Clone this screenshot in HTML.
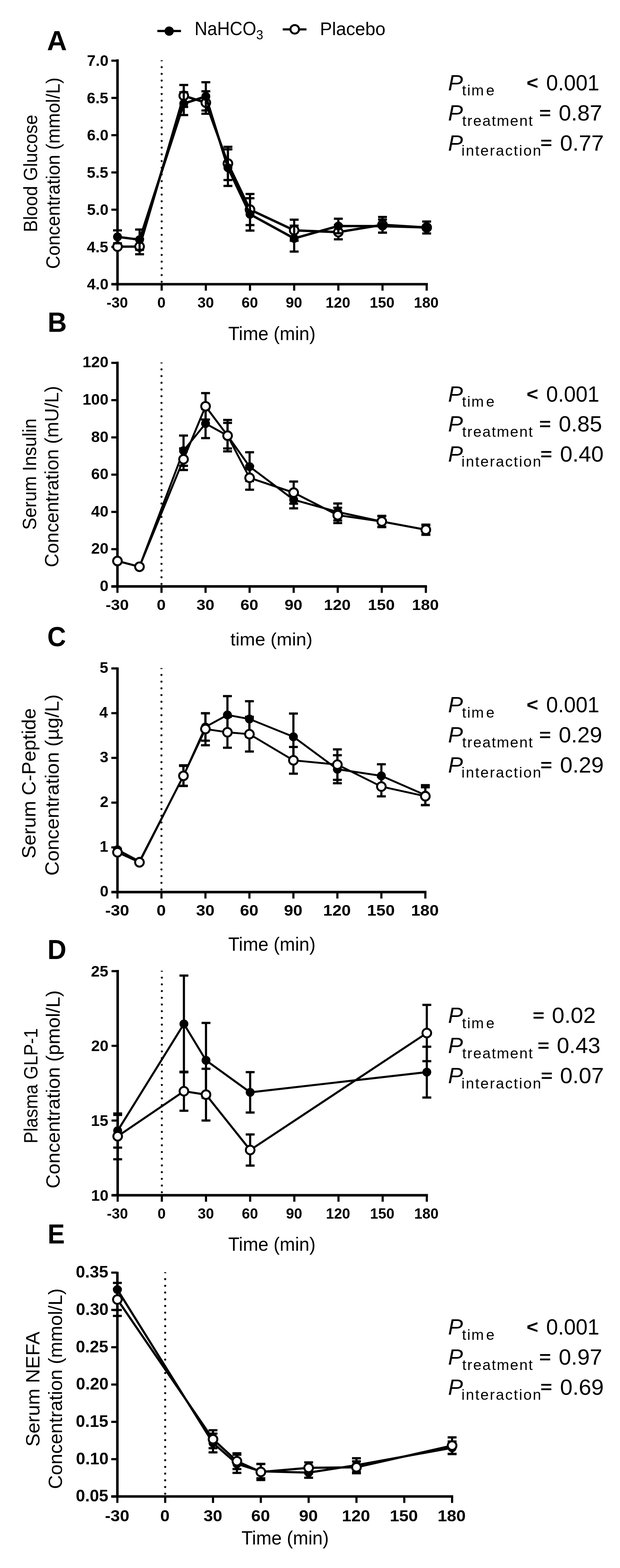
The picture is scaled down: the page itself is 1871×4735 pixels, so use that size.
<!DOCTYPE html>
<html><head><meta charset="utf-8"><title>Figure</title>
<style>
html,body{margin:0;padding:0;background:#fff;}
body{width:1871px;height:4735px;overflow:hidden;}
svg{display:block;}
</style></head>
<body>
<svg width="1871" height="4735" viewBox="0 0 1871 4735" font-family='"Liberation Sans", Arial, Helvetica, sans-serif' fill="#000">
<line x1="474.8" y1="93.7" x2="546.2" y2="93.7" stroke="#000" stroke-width="6.7"/>
<circle cx="510.5" cy="94" r="14"/>
<text transform="translate(591.6,106.3) scale(0.9331,1)" x="-4.67" y="0" font-size="56.98">NaHCO</text>
<text transform="translate(774.8,118.9) scale(0.9532,1)" x="-1.52" y="0" font-size="39.83">3</text>
<line x1="853.2" y1="88.8" x2="924.8" y2="88.8" stroke="#000" stroke-width="6.6"/>
<circle cx="889.4" cy="88.6" r="12.95" fill="#fff" stroke="#000" stroke-width="5.9"/>
<text transform="translate(970,105.6) scale(0.9847,1)" x="-4.55" y="0" font-size="55.52">Placebo</text>
<text x="141.82" y="152.3" font-size="83.43" font-weight="bold">A</text>
<line x1="487.89" y1="202.85" x2="487.89" y2="855.2" stroke="#000" stroke-width="6.2" stroke-linecap="round" stroke-dasharray="0 20.25"/>
<rect x="484.89" y="182" width="6" height="3"/>
<line x1="354.6" y1="179" x2="354.6" y2="862" stroke="#000" stroke-width="7.6"/>
<line x1="336.1" y1="858.2" x2="1291.2" y2="858.2" stroke="#000" stroke-width="7.6"/>
<line x1="336.1" y1="858.2" x2="354.6" y2="858.2" stroke="#000" stroke-width="6.5"/>
<text x="262.62" y="874.24" font-size="46.61" font-weight="bold">4.0</text>
<line x1="336.1" y1="745.7" x2="354.6" y2="745.7" stroke="#000" stroke-width="6.5"/>
<text x="262" y="761.74" font-size="46.61" font-weight="bold">4.5</text>
<line x1="336.1" y1="633.2" x2="354.6" y2="633.2" stroke="#000" stroke-width="6.5"/>
<text x="262.62" y="649.24" font-size="46.61" font-weight="bold">5.0</text>
<line x1="336.1" y1="520.7" x2="354.6" y2="520.7" stroke="#000" stroke-width="6.5"/>
<text x="262" y="536.74" font-size="46.61" font-weight="bold">5.5</text>
<line x1="336.1" y1="408.2" x2="354.6" y2="408.2" stroke="#000" stroke-width="6.5"/>
<text x="262.62" y="424.24" font-size="46.61" font-weight="bold">6.0</text>
<line x1="336.1" y1="295.7" x2="354.6" y2="295.7" stroke="#000" stroke-width="6.5"/>
<text x="262" y="311.74" font-size="46.61" font-weight="bold">6.5</text>
<line x1="336.1" y1="183.2" x2="354.6" y2="183.2" stroke="#000" stroke-width="6.5"/>
<text x="262.62" y="199.24" font-size="46.61" font-weight="bold">7.0</text>
<line x1="354.6" y1="858.2" x2="354.6" y2="877.7" stroke="#000" stroke-width="6.5"/>
<text x="321.59" y="929.06" font-size="44.63" font-weight="bold">-30</text>
<line x1="487.89" y1="858.2" x2="487.89" y2="877.7" stroke="#000" stroke-width="6.5"/>
<text x="474.71" y="929.06" font-size="44.63" font-weight="bold">0</text>
<line x1="621.17" y1="858.2" x2="621.17" y2="877.7" stroke="#000" stroke-width="6.5"/>
<text x="595.95" y="929.06" font-size="44.63" font-weight="bold">30</text>
<line x1="754.46" y1="858.2" x2="754.46" y2="877.7" stroke="#000" stroke-width="6.5"/>
<text x="728.93" y="929.06" font-size="44.63" font-weight="bold">60</text>
<line x1="887.74" y1="858.2" x2="887.74" y2="877.7" stroke="#000" stroke-width="6.5"/>
<text x="862.26" y="929.06" font-size="44.63" font-weight="bold">90</text>
<line x1="1021.03" y1="858.2" x2="1021.03" y2="877.7" stroke="#000" stroke-width="6.5"/>
<text x="982.5" y="929.06" font-size="44.63" font-weight="bold">120</text>
<line x1="1154.31" y1="858.2" x2="1154.31" y2="877.7" stroke="#000" stroke-width="6.5"/>
<text x="1115.79" y="929.06" font-size="44.63" font-weight="bold">150</text>
<line x1="1287.6" y1="858.2" x2="1287.6" y2="877.7" stroke="#000" stroke-width="6.5"/>
<text x="1249.08" y="929.06" font-size="44.63" font-weight="bold">180</text>
<text transform="translate(112.2,696.5) rotate(-90) scale(0.9523,1)" x="-4.7" y="0" font-size="57.27">Blood Glucose</text>
<text transform="translate(180.4,809.2) rotate(-90) scale(0.9662,1)" x="-2.91" y="0" font-size="57.27">Concentration (mmol/L)</text>
<text transform="translate(689.9,1027) scale(0.9733,1)" x="-1.28" y="0" font-size="57.12">Time (min)</text>
<line x1="354.6" y1="740.8" x2="354.6" y2="748.8" stroke="#000" stroke-width="6.5"/>
<rect x="341.2" y="737.45" width="26.8" height="6.7"/>
<rect x="341.2" y="745.45" width="26.8" height="6.7"/>
<line x1="421.24" y1="721.2" x2="421.24" y2="767.8" stroke="#000" stroke-width="6.5"/>
<rect x="407.84" y="717.85" width="26.8" height="6.7"/>
<rect x="407.84" y="764.45" width="26.8" height="6.7"/>
<line x1="554.53" y1="256.6" x2="554.53" y2="322.9" stroke="#000" stroke-width="6.5"/>
<rect x="541.13" y="253.25" width="26.8" height="6.7"/>
<rect x="541.13" y="319.55" width="26.8" height="6.7"/>
<line x1="621.17" y1="275.6" x2="621.17" y2="343.5" stroke="#000" stroke-width="6.5"/>
<rect x="607.77" y="272.25" width="26.8" height="6.7"/>
<rect x="607.77" y="340.15" width="26.8" height="6.7"/>
<line x1="687.81" y1="443.4" x2="687.81" y2="543.7" stroke="#000" stroke-width="6.5"/>
<rect x="674.41" y="440.05" width="26.8" height="6.7"/>
<rect x="674.41" y="540.35" width="26.8" height="6.7"/>
<line x1="754.46" y1="585.8" x2="754.46" y2="679.7" stroke="#000" stroke-width="6.5"/>
<rect x="741.06" y="582.45" width="26.8" height="6.7"/>
<rect x="741.06" y="676.35" width="26.8" height="6.7"/>
<line x1="887.74" y1="663.4" x2="887.74" y2="727.1" stroke="#000" stroke-width="6.5"/>
<rect x="874.34" y="660.05" width="26.8" height="6.7"/>
<rect x="874.34" y="723.75" width="26.8" height="6.7"/>
<line x1="1021.03" y1="679.3" x2="1021.03" y2="722.7" stroke="#000" stroke-width="6.5"/>
<rect x="1007.63" y="675.95" width="26.8" height="6.7"/>
<rect x="1007.63" y="719.35" width="26.8" height="6.7"/>
<line x1="1154.31" y1="655.2" x2="1154.31" y2="702.6" stroke="#000" stroke-width="6.5"/>
<rect x="1140.91" y="651.85" width="26.8" height="6.7"/>
<rect x="1140.91" y="699.25" width="26.8" height="6.7"/>
<line x1="1287.6" y1="684" x2="1287.6" y2="690" stroke="#000" stroke-width="6.5"/>
<rect x="1274.2" y="680.65" width="26.8" height="6.7"/>
<rect x="1274.2" y="686.65" width="26.8" height="6.7"/>
<polyline points="354.6,744.8 421.24,744.5 554.53,289.1 621.17,310 687.81,493.8 754.46,633 887.74,695.6 1021.03,701 1154.31,678.9 1287.6,687" fill="none" stroke="#000" stroke-width="7.2" stroke-linejoin="round"/>
<circle cx="354.6" cy="744.8" r="13.1" fill="#fff" stroke="#000" stroke-width="5.8"/>
<circle cx="421.24" cy="744.5" r="13.1" fill="#fff" stroke="#000" stroke-width="5.8"/>
<circle cx="554.53" cy="289.1" r="13.1" fill="#fff" stroke="#000" stroke-width="5.8"/>
<circle cx="621.17" cy="310" r="13.1" fill="#fff" stroke="#000" stroke-width="5.8"/>
<circle cx="687.81" cy="493.8" r="13.1" fill="#fff" stroke="#000" stroke-width="5.8"/>
<circle cx="754.46" cy="633" r="13.1" fill="#fff" stroke="#000" stroke-width="5.8"/>
<circle cx="887.74" cy="695.6" r="13.1" fill="#fff" stroke="#000" stroke-width="5.8"/>
<circle cx="1021.03" cy="701" r="13.1" fill="#fff" stroke="#000" stroke-width="5.8"/>
<circle cx="1154.31" cy="678.9" r="13.1" fill="#fff" stroke="#000" stroke-width="5.8"/>
<circle cx="1287.6" cy="687" r="13.1" fill="#fff" stroke="#000" stroke-width="5.8"/>
<line x1="354.6" y1="695.7" x2="354.6" y2="734.7" stroke="#000" stroke-width="6.5"/>
<rect x="341.2" y="692.35" width="26.8" height="6.7"/>
<rect x="341.2" y="731.35" width="26.8" height="6.7"/>
<line x1="421.24" y1="693.1" x2="421.24" y2="754.5" stroke="#000" stroke-width="6.5"/>
<rect x="407.84" y="689.75" width="26.8" height="6.7"/>
<rect x="407.84" y="751.15" width="26.8" height="6.7"/>
<line x1="554.53" y1="278.5" x2="554.53" y2="347.5" stroke="#000" stroke-width="6.5"/>
<rect x="541.13" y="275.15" width="26.8" height="6.7"/>
<rect x="541.13" y="344.15" width="26.8" height="6.7"/>
<line x1="621.17" y1="248.3" x2="621.17" y2="333.7" stroke="#000" stroke-width="6.5"/>
<rect x="607.77" y="244.95" width="26.8" height="6.7"/>
<rect x="607.77" y="330.35" width="26.8" height="6.7"/>
<line x1="687.81" y1="451" x2="687.81" y2="561.5" stroke="#000" stroke-width="6.5"/>
<rect x="674.41" y="447.65" width="26.8" height="6.7"/>
<rect x="674.41" y="558.15" width="26.8" height="6.7"/>
<line x1="754.46" y1="598.6" x2="754.46" y2="696.3" stroke="#000" stroke-width="6.5"/>
<rect x="741.06" y="595.25" width="26.8" height="6.7"/>
<rect x="741.06" y="692.95" width="26.8" height="6.7"/>
<line x1="887.74" y1="681.5" x2="887.74" y2="759.7" stroke="#000" stroke-width="6.5"/>
<rect x="874.34" y="678.15" width="26.8" height="6.7"/>
<rect x="874.34" y="756.35" width="26.8" height="6.7"/>
<line x1="1021.03" y1="660.5" x2="1021.03" y2="704.5" stroke="#000" stroke-width="6.5"/>
<rect x="1007.63" y="657.15" width="26.8" height="6.7"/>
<rect x="1007.63" y="701.15" width="26.8" height="6.7"/>
<line x1="1154.31" y1="663" x2="1154.31" y2="702.6" stroke="#000" stroke-width="6.5"/>
<rect x="1140.91" y="659.65" width="26.8" height="6.7"/>
<rect x="1140.91" y="699.25" width="26.8" height="6.7"/>
<line x1="1287.6" y1="669" x2="1287.6" y2="705" stroke="#000" stroke-width="6.5"/>
<rect x="1274.2" y="665.65" width="26.8" height="6.7"/>
<rect x="1274.2" y="701.65" width="26.8" height="6.7"/>
<polyline points="354.6,715.2 421.24,723.8 554.53,313 621.17,291 687.81,506.5 754.46,647.1 887.74,720 1021.03,682.5 1154.31,682.8 1287.6,687" fill="none" stroke="#000" stroke-width="7.2" stroke-linejoin="round"/>
<circle cx="354.6" cy="715.2" r="13.4"/>
<circle cx="421.24" cy="723.8" r="13.4"/>
<circle cx="554.53" cy="313" r="13.4"/>
<circle cx="621.17" cy="291" r="13.4"/>
<circle cx="687.81" cy="506.5" r="13.4"/>
<circle cx="754.46" cy="647.1" r="13.4"/>
<circle cx="887.74" cy="720" r="13.4"/>
<circle cx="1021.03" cy="682.5" r="13.4"/>
<circle cx="1154.31" cy="682.8" r="13.4"/>
<circle cx="1287.6" cy="687" r="13.4"/>
<text x="1351.92" y="272.8" font-size="67.5" font-style="italic">P</text>
<text x="1394.32" y="288.3" font-size="45" letter-spacing="2.83">tim</text>
<text x="1467.09" y="288.3" font-size="45">e</text>
<text transform="translate(1591.6,268.8) scale(1.1022,1)" x="-2.31" y="0" font-size="55" font-weight="bold">&lt;</text>
<text transform="translate(1650.8,272.8) scale(0.9714,1)" x="-2.58" y="0" font-size="66">0.001</text>
<text x="1351.92" y="364.3" font-size="67.5" font-style="italic">P</text>
<text x="1394.72" y="379.8" font-size="45" letter-spacing="2.85">treatment</text>
<text transform="translate(1629.8,359) scale(1.2164,1)" x="-2.08" y="0" font-size="50" font-weight="bold">=</text>
<text transform="translate(1688.7,364.3) scale(1.0224,1)" x="-2.58" y="0" font-size="66">0.87</text>
<text x="1351.92" y="454.7" font-size="67.5" font-style="italic">P</text>
<text x="1392.49" y="470.2" font-size="45" letter-spacing="3.26">interaction</text>
<text transform="translate(1633.2,449.4) scale(1.2164,1)" x="-2.08" y="0" font-size="50" font-weight="bold">=</text>
<text transform="translate(1692.6,454.7) scale(1.0305,1)" x="-2.58" y="0" font-size="66">0.77</text>
<text transform="translate(149.1,1002.3) scale(0.9591,1)" x="-5.58" y="0" font-size="83.43" font-weight="bold">B</text>
<line x1="487.36" y1="1115.43" x2="487.36" y2="1767.9" stroke="#000" stroke-width="6.2" stroke-linecap="round" stroke-dasharray="0 20.25"/>
<rect x="484.36" y="1094.58" width="6" height="3"/>
<line x1="354.4" y1="1092" x2="354.4" y2="1774.7" stroke="#000" stroke-width="7.6"/>
<line x1="335.9" y1="1770.9" x2="1288.5" y2="1770.9" stroke="#000" stroke-width="7.6"/>
<line x1="335.9" y1="1770.9" x2="354.4" y2="1770.9" stroke="#000" stroke-width="6.5"/>
<text x="301.27" y="1784.59" font-size="47.03" font-weight="bold">0</text>
<line x1="335.9" y1="1658.38" x2="354.4" y2="1658.38" stroke="#000" stroke-width="6.5"/>
<text x="275.11" y="1672.07" font-size="47.03" font-weight="bold">20</text>
<line x1="335.9" y1="1545.86" x2="354.4" y2="1545.86" stroke="#000" stroke-width="6.5"/>
<text x="275.11" y="1559.55" font-size="47.03" font-weight="bold">40</text>
<line x1="335.9" y1="1433.34" x2="354.4" y2="1433.34" stroke="#000" stroke-width="6.5"/>
<text x="275.11" y="1447.03" font-size="47.03" font-weight="bold">60</text>
<line x1="335.9" y1="1320.82" x2="354.4" y2="1320.82" stroke="#000" stroke-width="6.5"/>
<text x="275.11" y="1334.51" font-size="47.03" font-weight="bold">80</text>
<line x1="335.9" y1="1208.3" x2="354.4" y2="1208.3" stroke="#000" stroke-width="6.5"/>
<text x="248.96" y="1221.99" font-size="47.03" font-weight="bold">100</text>
<line x1="335.9" y1="1095.78" x2="354.4" y2="1095.78" stroke="#000" stroke-width="6.5"/>
<text x="248.96" y="1109.47" font-size="47.03" font-weight="bold">120</text>
<line x1="354.4" y1="1770.9" x2="354.4" y2="1790.4" stroke="#000" stroke-width="6.5"/>
<text transform="translate(320.51,1841.97) scale(1.1000,1)" x="-1.72" y="0" font-size="44.07" font-weight="bold">-30</text>
<line x1="487.36" y1="1770.9" x2="487.36" y2="1790.4" stroke="#000" stroke-width="6.5"/>
<text transform="translate(475.03,1841.97) scale(1.1000,1)" x="-1.74" y="0" font-size="44.07" font-weight="bold">0</text>
<line x1="620.31" y1="1770.9" x2="620.31" y2="1790.4" stroke="#000" stroke-width="6.5"/>
<text transform="translate(594.11,1841.97) scale(1.1000,1)" x="-1.01" y="0" font-size="44.07" font-weight="bold">30</text>
<line x1="753.27" y1="1770.9" x2="753.27" y2="1790.4" stroke="#000" stroke-width="6.5"/>
<text transform="translate(727.39,1841.97) scale(1.1000,1)" x="-1.61" y="0" font-size="44.07" font-weight="bold">60</text>
<line x1="886.23" y1="1770.9" x2="886.23" y2="1790.4" stroke="#000" stroke-width="6.5"/>
<text transform="translate(860.3,1841.97) scale(1.1000,1)" x="-1.53" y="0" font-size="44.07" font-weight="bold">90</text>
<line x1="1019.19" y1="1770.9" x2="1019.19" y2="1790.4" stroke="#000" stroke-width="6.5"/>
<text transform="translate(980.47,1841.97) scale(1.1000,1)" x="-2.78" y="0" font-size="44.07" font-weight="bold">120</text>
<line x1="1152.14" y1="1770.9" x2="1152.14" y2="1790.4" stroke="#000" stroke-width="6.5"/>
<text transform="translate(1113.42,1841.97) scale(1.1000,1)" x="-2.78" y="0" font-size="44.07" font-weight="bold">150</text>
<line x1="1285.1" y1="1770.9" x2="1285.1" y2="1790.4" stroke="#000" stroke-width="6.5"/>
<text transform="translate(1246.38,1841.97) scale(1.1000,1)" x="-2.78" y="0" font-size="44.07" font-weight="bold">180</text>
<text transform="translate(108.9,1597.5) rotate(-90) scale(0.9610,1)" x="-2.6" y="0" font-size="57.27">Serum Insulin</text>
<text transform="translate(176.4,1710) rotate(-90)" x="-2.91" y="0" font-size="57.27">Concentration (mU/L)</text>
<text transform="translate(696.2,1948.5) scale(1.0330,1)" x="-0.82" y="0" font-size="54">time (min)</text>
<line x1="354.4" y1="1691.1" x2="354.4" y2="1697.1" stroke="#000" stroke-width="6.5"/>
<rect x="341" y="1687.75" width="26.8" height="6.7"/>
<rect x="341" y="1693.75" width="26.8" height="6.7"/>
<line x1="420.88" y1="1708.4" x2="420.88" y2="1714.4" stroke="#000" stroke-width="6.5"/>
<rect x="407.48" y="1705.05" width="26.8" height="6.7"/>
<rect x="407.48" y="1711.05" width="26.8" height="6.7"/>
<line x1="553.84" y1="1315.3" x2="553.84" y2="1406.7" stroke="#000" stroke-width="6.5"/>
<rect x="540.44" y="1311.95" width="26.8" height="6.7"/>
<rect x="540.44" y="1403.35" width="26.8" height="6.7"/>
<line x1="620.31" y1="1235" x2="620.31" y2="1323" stroke="#000" stroke-width="6.5"/>
<rect x="606.91" y="1231.65" width="26.8" height="6.7"/>
<rect x="606.91" y="1319.65" width="26.8" height="6.7"/>
<line x1="686.79" y1="1268.2" x2="686.79" y2="1363" stroke="#000" stroke-width="6.5"/>
<rect x="673.39" y="1264.85" width="26.8" height="6.7"/>
<rect x="673.39" y="1359.65" width="26.8" height="6.7"/>
<line x1="753.27" y1="1365.7" x2="753.27" y2="1452.5" stroke="#000" stroke-width="6.5"/>
<rect x="739.87" y="1362.35" width="26.8" height="6.7"/>
<rect x="739.87" y="1449.15" width="26.8" height="6.7"/>
<line x1="886.23" y1="1483.1" x2="886.23" y2="1535.1" stroke="#000" stroke-width="6.5"/>
<rect x="872.83" y="1479.75" width="26.8" height="6.7"/>
<rect x="872.83" y="1531.75" width="26.8" height="6.7"/>
<line x1="1019.19" y1="1520.4" x2="1019.19" y2="1571.6" stroke="#000" stroke-width="6.5"/>
<rect x="1005.79" y="1517.05" width="26.8" height="6.7"/>
<rect x="1005.79" y="1568.25" width="26.8" height="6.7"/>
<line x1="1152.14" y1="1557.8" x2="1152.14" y2="1591.8" stroke="#000" stroke-width="6.5"/>
<rect x="1138.74" y="1554.45" width="26.8" height="6.7"/>
<rect x="1138.74" y="1588.45" width="26.8" height="6.7"/>
<line x1="1285.1" y1="1584.3" x2="1285.1" y2="1615.1" stroke="#000" stroke-width="6.5"/>
<rect x="1271.7" y="1580.95" width="26.8" height="6.7"/>
<rect x="1271.7" y="1611.75" width="26.8" height="6.7"/>
<polyline points="354.4,1694.1 420.88,1711.4 553.84,1361 620.31,1279 686.79,1315.6 753.27,1409.1 886.23,1509.1 1019.19,1546 1152.14,1574.8 1285.1,1599.7" fill="none" stroke="#000" stroke-width="5.9" stroke-linejoin="round"/>
<circle cx="354.4" cy="1694.1" r="13.4"/>
<circle cx="420.88" cy="1711.4" r="13.4"/>
<circle cx="553.84" cy="1361" r="13.4"/>
<circle cx="620.31" cy="1279" r="13.4"/>
<circle cx="686.79" cy="1315.6" r="13.4"/>
<circle cx="753.27" cy="1409.1" r="13.4"/>
<circle cx="886.23" cy="1509.1" r="13.4"/>
<circle cx="1019.19" cy="1546" r="13.4"/>
<circle cx="1152.14" cy="1574.8" r="13.4"/>
<circle cx="1285.1" cy="1599.7" r="13.4"/>
<line x1="354.4" y1="1691.1" x2="354.4" y2="1697.1" stroke="#000" stroke-width="6.5"/>
<rect x="341" y="1687.75" width="26.8" height="6.7"/>
<rect x="341" y="1693.75" width="26.8" height="6.7"/>
<line x1="420.88" y1="1708.4" x2="420.88" y2="1714.4" stroke="#000" stroke-width="6.5"/>
<rect x="407.48" y="1705.05" width="26.8" height="6.7"/>
<rect x="407.48" y="1711.05" width="26.8" height="6.7"/>
<line x1="553.84" y1="1354" x2="553.84" y2="1419.3" stroke="#000" stroke-width="6.5"/>
<rect x="540.44" y="1350.65" width="26.8" height="6.7"/>
<rect x="540.44" y="1415.95" width="26.8" height="6.7"/>
<line x1="620.31" y1="1187.1" x2="620.31" y2="1266.9" stroke="#000" stroke-width="6.5"/>
<rect x="606.91" y="1183.75" width="26.8" height="6.7"/>
<rect x="606.91" y="1263.55" width="26.8" height="6.7"/>
<line x1="686.79" y1="1277" x2="686.79" y2="1354.2" stroke="#000" stroke-width="6.5"/>
<rect x="673.39" y="1273.65" width="26.8" height="6.7"/>
<rect x="673.39" y="1350.85" width="26.8" height="6.7"/>
<line x1="753.27" y1="1407.2" x2="753.27" y2="1478.8" stroke="#000" stroke-width="6.5"/>
<rect x="739.87" y="1403.85" width="26.8" height="6.7"/>
<rect x="739.87" y="1475.45" width="26.8" height="6.7"/>
<line x1="886.23" y1="1454.2" x2="886.23" y2="1521" stroke="#000" stroke-width="6.5"/>
<rect x="872.83" y="1450.85" width="26.8" height="6.7"/>
<rect x="872.83" y="1517.65" width="26.8" height="6.7"/>
<line x1="1019.19" y1="1533.3" x2="1019.19" y2="1579.5" stroke="#000" stroke-width="6.5"/>
<rect x="1005.79" y="1529.95" width="26.8" height="6.7"/>
<rect x="1005.79" y="1576.15" width="26.8" height="6.7"/>
<line x1="1152.14" y1="1558.8" x2="1152.14" y2="1590.8" stroke="#000" stroke-width="6.5"/>
<rect x="1138.74" y="1555.45" width="26.8" height="6.7"/>
<rect x="1138.74" y="1587.45" width="26.8" height="6.7"/>
<line x1="1285.1" y1="1585.7" x2="1285.1" y2="1613.7" stroke="#000" stroke-width="6.5"/>
<rect x="1271.7" y="1582.35" width="26.8" height="6.7"/>
<rect x="1271.7" y="1610.35" width="26.8" height="6.7"/>
<polyline points="354.4,1694.1 420.88,1711.4 553.84,1387 620.31,1226.9 686.79,1315.6 753.27,1443 886.23,1487.6 1019.19,1555.7 1152.14,1574.8 1285.1,1599.7" fill="none" stroke="#000" stroke-width="5.9" stroke-linejoin="round"/>
<circle cx="354.4" cy="1694.1" r="13.1" fill="#fff" stroke="#000" stroke-width="5.8"/>
<circle cx="420.88" cy="1711.4" r="13.1" fill="#fff" stroke="#000" stroke-width="5.8"/>
<circle cx="553.84" cy="1387" r="13.1" fill="#fff" stroke="#000" stroke-width="5.8"/>
<circle cx="620.31" cy="1226.9" r="13.1" fill="#fff" stroke="#000" stroke-width="5.8"/>
<circle cx="686.79" cy="1315.6" r="13.1" fill="#fff" stroke="#000" stroke-width="5.8"/>
<circle cx="753.27" cy="1443" r="13.1" fill="#fff" stroke="#000" stroke-width="5.8"/>
<circle cx="886.23" cy="1487.6" r="13.1" fill="#fff" stroke="#000" stroke-width="5.8"/>
<circle cx="1019.19" cy="1555.7" r="13.1" fill="#fff" stroke="#000" stroke-width="5.8"/>
<circle cx="1152.14" cy="1574.8" r="13.1" fill="#fff" stroke="#000" stroke-width="5.8"/>
<circle cx="1285.1" cy="1599.7" r="13.1" fill="#fff" stroke="#000" stroke-width="5.8"/>
<text x="1351.92" y="1212.5" font-size="67.5" font-style="italic">P</text>
<text x="1394.32" y="1228" font-size="45" letter-spacing="2.83">tim</text>
<text x="1467.09" y="1228" font-size="45">e</text>
<text transform="translate(1591.6,1208.5) scale(1.1022,1)" x="-2.31" y="0" font-size="55" font-weight="bold">&lt;</text>
<text transform="translate(1650.8,1212.5) scale(0.9714,1)" x="-2.58" y="0" font-size="66">0.001</text>
<text x="1351.92" y="1303.4" font-size="67.5" font-style="italic">P</text>
<text x="1394.72" y="1318.9" font-size="45" letter-spacing="2.85">treatment</text>
<text transform="translate(1629.8,1298.1) scale(1.2164,1)" x="-2.08" y="0" font-size="50" font-weight="bold">=</text>
<text transform="translate(1688.7,1303.4) scale(1.0178,1)" x="-2.58" y="0" font-size="66">0.85</text>
<text x="1351.92" y="1393.8" font-size="67.5" font-style="italic">P</text>
<text x="1392.49" y="1409.3" font-size="45" letter-spacing="3.26">interaction</text>
<text transform="translate(1633.2,1388.5) scale(1.2164,1)" x="-2.08" y="0" font-size="50" font-weight="bold">=</text>
<text transform="translate(1692.6,1393.8) scale(1.0243,1)" x="-2.58" y="0" font-size="66">0.40</text>
<text transform="translate(145.9,1951.4) scale(0.9335,1)" x="-3.43" y="0" font-size="83.72" font-weight="bold">C</text>
<line x1="487.23" y1="2038.15" x2="487.23" y2="2690.9" stroke="#000" stroke-width="6.2" stroke-linecap="round" stroke-dasharray="0 20.25"/>
<rect x="484.23" y="2017.3" width="6" height="3"/>
<line x1="354.5" y1="2015.5" x2="354.5" y2="2697.7" stroke="#000" stroke-width="7.6"/>
<line x1="336" y1="2693.9" x2="1287" y2="2693.9" stroke="#000" stroke-width="7.6"/>
<line x1="336" y1="2693.9" x2="354.5" y2="2693.9" stroke="#000" stroke-width="6.5"/>
<text x="301.49" y="2706.94" font-size="46.61" font-weight="bold">0</text>
<line x1="336" y1="2558.82" x2="354.5" y2="2558.82" stroke="#000" stroke-width="6.5"/>
<text x="300.87" y="2571.86" font-size="46.61" font-weight="bold">1</text>
<line x1="336" y1="2423.74" x2="354.5" y2="2423.74" stroke="#000" stroke-width="6.5"/>
<text x="301.44" y="2436.78" font-size="46.61" font-weight="bold">2</text>
<line x1="336" y1="2288.66" x2="354.5" y2="2288.66" stroke="#000" stroke-width="6.5"/>
<text x="301.26" y="2301.7" font-size="46.61" font-weight="bold">3</text>
<line x1="336" y1="2153.58" x2="354.5" y2="2153.58" stroke="#000" stroke-width="6.5"/>
<text x="299.83" y="2166.62" font-size="46.61" font-weight="bold">4</text>
<line x1="336" y1="2018.5" x2="354.5" y2="2018.5" stroke="#000" stroke-width="6.5"/>
<text x="300.87" y="2031.54" font-size="46.61" font-weight="bold">5</text>
<line x1="354.5" y1="2693.9" x2="354.5" y2="2713.4" stroke="#000" stroke-width="6.5"/>
<text transform="translate(319.55,2764.55) scale(1.1000,1)" x="-1.78" y="0" font-size="45.48" font-weight="bold">-30</text>
<line x1="487.23" y1="2693.9" x2="487.23" y2="2713.4" stroke="#000" stroke-width="6.5"/>
<text transform="translate(474.53,2764.55) scale(1.1000,1)" x="-1.8" y="0" font-size="45.48" font-weight="bold">0</text>
<line x1="619.96" y1="2693.9" x2="619.96" y2="2713.4" stroke="#000" stroke-width="6.5"/>
<text transform="translate(592.93,2764.55) scale(1.1000,1)" x="-1.04" y="0" font-size="45.48" font-weight="bold">30</text>
<line x1="752.69" y1="2693.9" x2="752.69" y2="2713.4" stroke="#000" stroke-width="6.5"/>
<text transform="translate(726,2764.55) scale(1.1000,1)" x="-1.67" y="0" font-size="45.48" font-weight="bold">60</text>
<line x1="885.41" y1="2693.9" x2="885.41" y2="2713.4" stroke="#000" stroke-width="6.5"/>
<text transform="translate(858.68,2764.55) scale(1.1000,1)" x="-1.58" y="0" font-size="45.48" font-weight="bold">90</text>
<line x1="1018.14" y1="2693.9" x2="1018.14" y2="2713.4" stroke="#000" stroke-width="6.5"/>
<text transform="translate(978.21,2764.55) scale(1.1000,1)" x="-2.86" y="0" font-size="45.48" font-weight="bold">120</text>
<line x1="1150.87" y1="2693.9" x2="1150.87" y2="2713.4" stroke="#000" stroke-width="6.5"/>
<text transform="translate(1110.94,2764.55) scale(1.1000,1)" x="-2.86" y="0" font-size="45.48" font-weight="bold">150</text>
<line x1="1283.6" y1="2693.9" x2="1283.6" y2="2713.4" stroke="#000" stroke-width="6.5"/>
<text transform="translate(1243.67,2764.55) scale(1.1000,1)" x="-2.86" y="0" font-size="45.48" font-weight="bold">180</text>
<text transform="translate(107.1,2589.7) rotate(-90) scale(1.0330,1)" x="-2.6" y="0" font-size="57.27">Serum C-Peptide</text>
<text transform="translate(177.2,2641.3) rotate(-90) scale(1.0465,1)" x="-2.91" y="0" font-size="57.27">Concentration (µg/L)</text>
<text transform="translate(689.9,2870.8) scale(0.9733,1)" x="-1.28" y="0" font-size="57.12">Time (min)</text>
<line x1="354.5" y1="2563" x2="354.5" y2="2569" stroke="#000" stroke-width="6.5"/>
<rect x="341.1" y="2559.65" width="26.8" height="6.7"/>
<rect x="341.1" y="2565.65" width="26.8" height="6.7"/>
<line x1="420.86" y1="2598" x2="420.86" y2="2604" stroke="#000" stroke-width="6.5"/>
<rect x="407.46" y="2594.65" width="26.8" height="6.7"/>
<rect x="407.46" y="2600.65" width="26.8" height="6.7"/>
<line x1="553.59" y1="2312.9" x2="553.59" y2="2372.9" stroke="#000" stroke-width="6.5"/>
<rect x="540.19" y="2309.55" width="26.8" height="6.7"/>
<rect x="540.19" y="2369.55" width="26.8" height="6.7"/>
<line x1="619.96" y1="2153.9" x2="619.96" y2="2236.7" stroke="#000" stroke-width="6.5"/>
<rect x="606.56" y="2150.55" width="26.8" height="6.7"/>
<rect x="606.56" y="2233.35" width="26.8" height="6.7"/>
<line x1="686.32" y1="2102.1" x2="686.32" y2="2215.9" stroke="#000" stroke-width="6.5"/>
<rect x="672.92" y="2098.75" width="26.8" height="6.7"/>
<rect x="672.92" y="2212.55" width="26.8" height="6.7"/>
<line x1="752.69" y1="2117.5" x2="752.69" y2="2224.9" stroke="#000" stroke-width="6.5"/>
<rect x="739.29" y="2114.15" width="26.8" height="6.7"/>
<rect x="739.29" y="2221.55" width="26.8" height="6.7"/>
<line x1="885.41" y1="2154.8" x2="885.41" y2="2295" stroke="#000" stroke-width="6.5"/>
<rect x="872.01" y="2151.45" width="26.8" height="6.7"/>
<rect x="872.01" y="2291.65" width="26.8" height="6.7"/>
<line x1="1018.14" y1="2280.6" x2="1018.14" y2="2365.2" stroke="#000" stroke-width="6.5"/>
<rect x="1004.74" y="2277.25" width="26.8" height="6.7"/>
<rect x="1004.74" y="2361.85" width="26.8" height="6.7"/>
<line x1="1150.87" y1="2307.9" x2="1150.87" y2="2377.9" stroke="#000" stroke-width="6.5"/>
<rect x="1137.47" y="2304.55" width="26.8" height="6.7"/>
<rect x="1137.47" y="2374.55" width="26.8" height="6.7"/>
<line x1="1283.6" y1="2371" x2="1283.6" y2="2431" stroke="#000" stroke-width="6.5"/>
<rect x="1270.2" y="2367.65" width="26.8" height="6.7"/>
<rect x="1270.2" y="2427.65" width="26.8" height="6.7"/>
<polyline points="354.5,2566 420.86,2601 553.59,2342.9 619.96,2195.3 686.32,2159 752.69,2171.2 885.41,2224.9 1018.14,2322.9 1150.87,2342.9 1283.6,2401" fill="none" stroke="#000" stroke-width="5.7" stroke-linejoin="round"/>
<circle cx="354.5" cy="2566" r="13.4"/>
<circle cx="420.86" cy="2601" r="13.4"/>
<circle cx="553.59" cy="2342.9" r="13.4"/>
<circle cx="619.96" cy="2195.3" r="13.4"/>
<circle cx="686.32" cy="2159" r="13.4"/>
<circle cx="752.69" cy="2171.2" r="13.4"/>
<circle cx="885.41" cy="2224.9" r="13.4"/>
<circle cx="1018.14" cy="2322.9" r="13.4"/>
<circle cx="1150.87" cy="2342.9" r="13.4"/>
<circle cx="1283.6" cy="2401" r="13.4"/>
<line x1="354.5" y1="2570.7" x2="354.5" y2="2576.7" stroke="#000" stroke-width="6.5"/>
<rect x="341.1" y="2567.35" width="26.8" height="6.7"/>
<rect x="341.1" y="2573.35" width="26.8" height="6.7"/>
<line x1="420.86" y1="2601" x2="420.86" y2="2607" stroke="#000" stroke-width="6.5"/>
<rect x="407.46" y="2597.65" width="26.8" height="6.7"/>
<rect x="407.46" y="2603.65" width="26.8" height="6.7"/>
<line x1="553.59" y1="2311" x2="553.59" y2="2373.5" stroke="#000" stroke-width="6.5"/>
<rect x="540.19" y="2307.65" width="26.8" height="6.7"/>
<rect x="540.19" y="2370.15" width="26.8" height="6.7"/>
<line x1="619.96" y1="2153.9" x2="619.96" y2="2250.5" stroke="#000" stroke-width="6.5"/>
<rect x="606.56" y="2150.55" width="26.8" height="6.7"/>
<rect x="606.56" y="2247.15" width="26.8" height="6.7"/>
<line x1="686.32" y1="2164.6" x2="686.32" y2="2258" stroke="#000" stroke-width="6.5"/>
<rect x="672.92" y="2161.25" width="26.8" height="6.7"/>
<rect x="672.92" y="2254.65" width="26.8" height="6.7"/>
<line x1="752.69" y1="2164.6" x2="752.69" y2="2269.4" stroke="#000" stroke-width="6.5"/>
<rect x="739.29" y="2161.25" width="26.8" height="6.7"/>
<rect x="739.29" y="2266.05" width="26.8" height="6.7"/>
<line x1="885.41" y1="2255.7" x2="885.41" y2="2336.3" stroke="#000" stroke-width="6.5"/>
<rect x="872.01" y="2252.35" width="26.8" height="6.7"/>
<rect x="872.01" y="2332.95" width="26.8" height="6.7"/>
<line x1="1018.14" y1="2263" x2="1018.14" y2="2355" stroke="#000" stroke-width="6.5"/>
<rect x="1004.74" y="2259.65" width="26.8" height="6.7"/>
<rect x="1004.74" y="2351.65" width="26.8" height="6.7"/>
<line x1="1150.87" y1="2345.8" x2="1150.87" y2="2404.8" stroke="#000" stroke-width="6.5"/>
<rect x="1137.47" y="2342.45" width="26.8" height="6.7"/>
<rect x="1137.47" y="2401.45" width="26.8" height="6.7"/>
<line x1="1283.6" y1="2377.4" x2="1283.6" y2="2431.4" stroke="#000" stroke-width="6.5"/>
<rect x="1270.2" y="2374.05" width="26.8" height="6.7"/>
<rect x="1270.2" y="2428.05" width="26.8" height="6.7"/>
<polyline points="354.5,2573.7 420.86,2604 553.59,2342.9 619.96,2201.5 686.32,2211.3 752.69,2217 885.41,2296 1018.14,2309 1150.87,2375.3 1283.6,2404.4" fill="none" stroke="#000" stroke-width="5.7" stroke-linejoin="round"/>
<circle cx="354.5" cy="2573.7" r="13.1" fill="#fff" stroke="#000" stroke-width="5.8"/>
<circle cx="420.86" cy="2604" r="13.1" fill="#fff" stroke="#000" stroke-width="5.8"/>
<circle cx="553.59" cy="2342.9" r="13.1" fill="#fff" stroke="#000" stroke-width="5.8"/>
<circle cx="619.96" cy="2201.5" r="13.1" fill="#fff" stroke="#000" stroke-width="5.8"/>
<circle cx="686.32" cy="2211.3" r="13.1" fill="#fff" stroke="#000" stroke-width="5.8"/>
<circle cx="752.69" cy="2217" r="13.1" fill="#fff" stroke="#000" stroke-width="5.8"/>
<circle cx="885.41" cy="2296" r="13.1" fill="#fff" stroke="#000" stroke-width="5.8"/>
<circle cx="1018.14" cy="2309" r="13.1" fill="#fff" stroke="#000" stroke-width="5.8"/>
<circle cx="1150.87" cy="2375.3" r="13.1" fill="#fff" stroke="#000" stroke-width="5.8"/>
<circle cx="1283.6" cy="2404.4" r="13.1" fill="#fff" stroke="#000" stroke-width="5.8"/>
<text x="1351.92" y="2151" font-size="67.5" font-style="italic">P</text>
<text x="1394.32" y="2166.5" font-size="45" letter-spacing="2.83">tim</text>
<text x="1467.09" y="2166.5" font-size="45">e</text>
<text transform="translate(1591.6,2147) scale(1.1022,1)" x="-2.31" y="0" font-size="55" font-weight="bold">&lt;</text>
<text transform="translate(1650.8,2151) scale(0.9714,1)" x="-2.58" y="0" font-size="66">0.001</text>
<text x="1351.92" y="2241.9" font-size="67.5" font-style="italic">P</text>
<text x="1394.72" y="2257.4" font-size="45" letter-spacing="2.85">treatment</text>
<text transform="translate(1629.8,2236.6) scale(1.2164,1)" x="-2.08" y="0" font-size="50" font-weight="bold">=</text>
<text transform="translate(1688.7,2241.9) scale(1.0208,1)" x="-2.58" y="0" font-size="66">0.29</text>
<text x="1351.92" y="2332.8" font-size="67.5" font-style="italic">P</text>
<text x="1392.49" y="2348.3" font-size="45" letter-spacing="3.26">interaction</text>
<text transform="translate(1633.2,2327.5) scale(1.2164,1)" x="-2.08" y="0" font-size="50" font-weight="bold">=</text>
<text transform="translate(1692.6,2332.8) scale(1.0289,1)" x="-2.58" y="0" font-size="66">0.29</text>
<text transform="translate(148.6,2896.2) scale(0.9476,1)" x="-5.57" y="0" font-size="83.28" font-weight="bold">D</text>
<line x1="488.37" y1="2952.25" x2="488.37" y2="3606.4" stroke="#000" stroke-width="6.2" stroke-linecap="round" stroke-dasharray="0 20.25"/>
<rect x="485.37" y="2931.4" width="6" height="3"/>
<line x1="355.1" y1="2929" x2="355.1" y2="3613.2" stroke="#000" stroke-width="7.6"/>
<line x1="336.6" y1="3609.4" x2="1291.4" y2="3609.4" stroke="#000" stroke-width="7.6"/>
<line x1="336.6" y1="3609.4" x2="355.1" y2="3609.4" stroke="#000" stroke-width="6.5"/>
<text x="275.11" y="3625.59" font-size="47.03" font-weight="bold">10</text>
<line x1="336.6" y1="3383.8" x2="355.1" y2="3383.8" stroke="#000" stroke-width="6.5"/>
<text x="274.49" y="3399.99" font-size="47.03" font-weight="bold">15</text>
<line x1="336.6" y1="3158.2" x2="355.1" y2="3158.2" stroke="#000" stroke-width="6.5"/>
<text x="275.11" y="3174.39" font-size="47.03" font-weight="bold">20</text>
<line x1="336.6" y1="2932.6" x2="355.1" y2="2932.6" stroke="#000" stroke-width="6.5"/>
<text x="274.49" y="2948.79" font-size="47.03" font-weight="bold">25</text>
<line x1="355.1" y1="3609.4" x2="355.1" y2="3628.9" stroke="#000" stroke-width="6.5"/>
<text x="322.6" y="3679.57" font-size="43.93" font-weight="bold">-30</text>
<line x1="488.37" y1="3609.4" x2="488.37" y2="3628.9" stroke="#000" stroke-width="6.5"/>
<text x="475.39" y="3679.57" font-size="43.93" font-weight="bold">0</text>
<line x1="621.64" y1="3609.4" x2="621.64" y2="3628.9" stroke="#000" stroke-width="6.5"/>
<text x="596.81" y="3679.57" font-size="43.93" font-weight="bold">30</text>
<line x1="754.91" y1="3609.4" x2="754.91" y2="3628.9" stroke="#000" stroke-width="6.5"/>
<text x="729.78" y="3679.57" font-size="43.93" font-weight="bold">60</text>
<line x1="888.19" y1="3609.4" x2="888.19" y2="3628.9" stroke="#000" stroke-width="6.5"/>
<text x="863.1" y="3679.57" font-size="43.93" font-weight="bold">90</text>
<line x1="1021.46" y1="3609.4" x2="1021.46" y2="3628.9" stroke="#000" stroke-width="6.5"/>
<text x="983.53" y="3679.57" font-size="43.93" font-weight="bold">120</text>
<line x1="1154.73" y1="3609.4" x2="1154.73" y2="3628.9" stroke="#000" stroke-width="6.5"/>
<text x="1116.8" y="3679.57" font-size="43.93" font-weight="bold">150</text>
<line x1="1288" y1="3609.4" x2="1288" y2="3628.9" stroke="#000" stroke-width="6.5"/>
<text x="1250.07" y="3679.57" font-size="43.93" font-weight="bold">180</text>
<text transform="translate(113,3448.5) rotate(-90) scale(0.9345,1)" x="-4.7" y="0" font-size="57.27">Plasma GLP-1</text>
<text transform="translate(180.4,3585.8) rotate(-90) scale(1.0276,1)" x="-2.91" y="0" font-size="57.27">Concentration (pmol/L)</text>
<text transform="translate(689.9,3776.5) scale(0.9733,1)" x="-1.28" y="0" font-size="57.12">Time (min)</text>
<line x1="355.1" y1="3362.5" x2="355.1" y2="3465.5" stroke="#000" stroke-width="6.5"/>
<rect x="341.7" y="3359.15" width="26.8" height="6.7"/>
<rect x="341.7" y="3462.15" width="26.8" height="6.7"/>
<line x1="555.01" y1="2946" x2="555.01" y2="3238" stroke="#000" stroke-width="6.5"/>
<rect x="541.61" y="2942.65" width="26.8" height="6.7"/>
<rect x="541.61" y="3234.65" width="26.8" height="6.7"/>
<line x1="621.64" y1="3089" x2="621.64" y2="3315" stroke="#000" stroke-width="6.5"/>
<rect x="608.24" y="3085.65" width="26.8" height="6.7"/>
<rect x="608.24" y="3311.65" width="26.8" height="6.7"/>
<line x1="754.91" y1="3237.6" x2="754.91" y2="3359.6" stroke="#000" stroke-width="6.5"/>
<rect x="741.51" y="3234.25" width="26.8" height="6.7"/>
<rect x="741.51" y="3356.25" width="26.8" height="6.7"/>
<line x1="1288" y1="3160.9" x2="1288" y2="3314.3" stroke="#000" stroke-width="6.5"/>
<rect x="1274.6" y="3157.55" width="26.8" height="6.7"/>
<rect x="1274.6" y="3310.95" width="26.8" height="6.7"/>
<polyline points="355.1,3414.5 555.01,3092 621.64,3202 754.91,3298.6 1288,3237.6" fill="none" stroke="#000" stroke-width="6.2" stroke-linejoin="round"/>
<circle cx="355.1" cy="3414.5" r="13.4"/>
<circle cx="555.01" cy="3092" r="13.4"/>
<circle cx="621.64" cy="3202" r="13.4"/>
<circle cx="754.91" cy="3298.6" r="13.4"/>
<circle cx="1288" cy="3237.6" r="13.4"/>
<line x1="355.1" y1="3366.8" x2="355.1" y2="3500.7" stroke="#000" stroke-width="6.5"/>
<rect x="341.7" y="3363.45" width="26.8" height="6.7"/>
<rect x="341.7" y="3497.35" width="26.8" height="6.7"/>
<line x1="555.01" y1="3236.4" x2="555.01" y2="3354.2" stroke="#000" stroke-width="6.5"/>
<rect x="541.61" y="3233.05" width="26.8" height="6.7"/>
<rect x="541.61" y="3350.85" width="26.8" height="6.7"/>
<line x1="621.64" y1="3227.5" x2="621.64" y2="3383.7" stroke="#000" stroke-width="6.5"/>
<rect x="608.24" y="3224.15" width="26.8" height="6.7"/>
<rect x="608.24" y="3380.35" width="26.8" height="6.7"/>
<line x1="754.91" y1="3425.8" x2="754.91" y2="3519.8" stroke="#000" stroke-width="6.5"/>
<rect x="741.51" y="3422.45" width="26.8" height="6.7"/>
<rect x="741.51" y="3516.45" width="26.8" height="6.7"/>
<line x1="1288" y1="3034.5" x2="1288" y2="3204.5" stroke="#000" stroke-width="6.5"/>
<rect x="1274.6" y="3031.15" width="26.8" height="6.7"/>
<rect x="1274.6" y="3201.15" width="26.8" height="6.7"/>
<polyline points="355.1,3431.2 555.01,3295.3 621.64,3305.6 754.91,3472.8 1288,3119.5" fill="none" stroke="#000" stroke-width="6.2" stroke-linejoin="round"/>
<circle cx="355.1" cy="3431.2" r="13.1" fill="#fff" stroke="#000" stroke-width="5.8"/>
<circle cx="555.01" cy="3295.3" r="13.1" fill="#fff" stroke="#000" stroke-width="5.8"/>
<circle cx="621.64" cy="3305.6" r="13.1" fill="#fff" stroke="#000" stroke-width="5.8"/>
<circle cx="754.91" cy="3472.8" r="13.1" fill="#fff" stroke="#000" stroke-width="5.8"/>
<circle cx="1288" cy="3119.5" r="13.1" fill="#fff" stroke="#000" stroke-width="5.8"/>
<text x="1351.92" y="3089" font-size="67.5" font-style="italic">P</text>
<text x="1394.32" y="3104.5" font-size="45" letter-spacing="2.83">tim</text>
<text x="1467.09" y="3104.5" font-size="45">e</text>
<text transform="translate(1610.1,3083.7) scale(1.2164,1)" x="-2.08" y="0" font-size="50" font-weight="bold">=</text>
<text transform="translate(1668.1,3089) scale(1.0297,1)" x="-2.58" y="0" font-size="66">0.02</text>
<text x="1351.92" y="3180.4" font-size="67.5" font-style="italic">P</text>
<text x="1394.72" y="3195.9" font-size="45" letter-spacing="2.85">treatment</text>
<text transform="translate(1624.9,3175.1) scale(1.2164,1)" x="-2.08" y="0" font-size="50" font-weight="bold">=</text>
<text transform="translate(1682.8,3180.4) scale(1.0262,1)" x="-2.58" y="0" font-size="66">0.43</text>
<text x="1351.92" y="3271.3" font-size="67.5" font-style="italic">P</text>
<text x="1392.49" y="3286.8" font-size="45" letter-spacing="3.26">interaction</text>
<text transform="translate(1634.7,3266) scale(1.2164,1)" x="-2.08" y="0" font-size="50" font-weight="bold">=</text>
<text transform="translate(1692.6,3271.3) scale(1.0305,1)" x="-2.58" y="0" font-size="66">0.07</text>
<text transform="translate(148.8,3755.1) scale(0.9342,1)" x="-5.55" y="0" font-size="82.99" font-weight="bold">E</text>
<line x1="498.5" y1="3862.66" x2="498.5" y2="4516" stroke="#000" stroke-width="6.2" stroke-linecap="round" stroke-dasharray="0 20.25"/>
<rect x="495.5" y="3841.81" width="6" height="3"/>
<line x1="354.2" y1="3840.5" x2="354.2" y2="4522.8" stroke="#000" stroke-width="7.6"/>
<line x1="335.7" y1="4519" x2="1367.6" y2="4519" stroke="#000" stroke-width="7.6"/>
<line x1="335.7" y1="4519" x2="354.2" y2="4519" stroke="#000" stroke-width="6.5"/>
<text transform="translate(230.65,4534.37) scale(1.0300,1)" x="-1.94" y="0" font-size="49.01" font-weight="bold">0.05</text>
<line x1="335.7" y1="4406.34" x2="354.2" y2="4406.34" stroke="#000" stroke-width="6.5"/>
<text transform="translate(231.32,4421.7) scale(1.0300,1)" x="-1.94" y="0" font-size="49.01" font-weight="bold">0.10</text>
<line x1="335.7" y1="4293.67" x2="354.2" y2="4293.67" stroke="#000" stroke-width="6.5"/>
<text transform="translate(230.65,4309.04) scale(1.0300,1)" x="-1.94" y="0" font-size="49.01" font-weight="bold">0.15</text>
<line x1="335.7" y1="4181.01" x2="354.2" y2="4181.01" stroke="#000" stroke-width="6.5"/>
<text transform="translate(231.32,4196.37) scale(1.0300,1)" x="-1.94" y="0" font-size="49.01" font-weight="bold">0.20</text>
<line x1="335.7" y1="4068.34" x2="354.2" y2="4068.34" stroke="#000" stroke-width="6.5"/>
<text transform="translate(230.65,4083.71) scale(1.0300,1)" x="-1.94" y="0" font-size="49.01" font-weight="bold">0.25</text>
<line x1="335.7" y1="3955.68" x2="354.2" y2="3955.68" stroke="#000" stroke-width="6.5"/>
<text transform="translate(231.32,3971.04) scale(1.0300,1)" x="-1.94" y="0" font-size="49.01" font-weight="bold">0.30</text>
<line x1="335.7" y1="3843.01" x2="354.2" y2="3843.01" stroke="#000" stroke-width="6.5"/>
<text transform="translate(230.65,3858.38) scale(1.0300,1)" x="-1.94" y="0" font-size="49.01" font-weight="bold">0.35</text>
<line x1="354.2" y1="4519" x2="354.2" y2="4538.5" stroke="#000" stroke-width="6.5"/>
<text transform="translate(318.63,4593.53) scale(1.0700,1)" x="-1.86" y="0" font-size="47.6" font-weight="bold">-30</text>
<line x1="498.5" y1="4519" x2="498.5" y2="4538.5" stroke="#000" stroke-width="6.5"/>
<text transform="translate(485.59,4593.53) scale(1.0700,1)" x="-1.88" y="0" font-size="47.6" font-weight="bold">0</text>
<line x1="642.8" y1="4519" x2="642.8" y2="4538.5" stroke="#000" stroke-width="6.5"/>
<text transform="translate(615.3,4593.53) scale(1.0700,1)" x="-1.09" y="0" font-size="47.6" font-weight="bold">30</text>
<line x1="787.1" y1="4519" x2="787.1" y2="4538.5" stroke="#000" stroke-width="6.5"/>
<text transform="translate(759.95,4593.53) scale(1.0700,1)" x="-1.74" y="0" font-size="47.6" font-weight="bold">60</text>
<line x1="931.4" y1="4519" x2="931.4" y2="4538.5" stroke="#000" stroke-width="6.5"/>
<text transform="translate(904.2,4593.53) scale(1.0700,1)" x="-1.65" y="0" font-size="47.6" font-weight="bold">90</text>
<line x1="1075.7" y1="4519" x2="1075.7" y2="4538.5" stroke="#000" stroke-width="6.5"/>
<text transform="translate(1035.06,4593.53) scale(1.0700,1)" x="-3" y="0" font-size="47.6" font-weight="bold">120</text>
<line x1="1220" y1="4519" x2="1220" y2="4538.5" stroke="#000" stroke-width="6.5"/>
<text transform="translate(1179.36,4593.53) scale(1.0700,1)" x="-3" y="0" font-size="47.6" font-weight="bold">150</text>
<line x1="1364.3" y1="4519" x2="1364.3" y2="4538.5" stroke="#000" stroke-width="6.5"/>
<text transform="translate(1323.66,4593.53) scale(1.0700,1)" x="-3" y="0" font-size="47.6" font-weight="bold">180</text>
<text transform="translate(118.5,4365.8) rotate(-90) scale(1.0448,1)" x="-2.59" y="0" font-size="56.98">Serum NEFA</text>
<text transform="translate(186.7,4493.5) rotate(-90) scale(1.0175,1)" x="-2.89" y="0" font-size="56.98">Concentration (mmol/L)</text>
<text transform="translate(729.9,4664.2) scale(0.9733,1)" x="-1.28" y="0" font-size="57.12">Time (min)</text>
<line x1="354.2" y1="3874.1" x2="354.2" y2="3956" stroke="#000" stroke-width="6.5"/>
<rect x="340.8" y="3870.75" width="26.8" height="6.7"/>
<rect x="340.8" y="3952.65" width="26.8" height="6.7"/>
<line x1="642.8" y1="4329.2" x2="642.8" y2="4385.8" stroke="#000" stroke-width="6.5"/>
<rect x="629.4" y="4325.85" width="26.8" height="6.7"/>
<rect x="629.4" y="4382.45" width="26.8" height="6.7"/>
<line x1="714.95" y1="4393" x2="714.95" y2="4447.8" stroke="#000" stroke-width="6.5"/>
<rect x="701.55" y="4389.65" width="26.8" height="6.7"/>
<rect x="701.55" y="4444.45" width="26.8" height="6.7"/>
<line x1="787.1" y1="4421" x2="787.1" y2="4464" stroke="#000" stroke-width="6.5"/>
<rect x="773.7" y="4417.65" width="26.8" height="6.7"/>
<rect x="773.7" y="4460.65" width="26.8" height="6.7"/>
<line x1="931.4" y1="4431.5" x2="931.4" y2="4462.5" stroke="#000" stroke-width="6.5"/>
<rect x="918" y="4428.15" width="26.8" height="6.7"/>
<rect x="918" y="4459.15" width="26.8" height="6.7"/>
<line x1="1075.7" y1="4403.5" x2="1075.7" y2="4445.5" stroke="#000" stroke-width="6.5"/>
<rect x="1062.3" y="4400.15" width="26.8" height="6.7"/>
<rect x="1062.3" y="4442.15" width="26.8" height="6.7"/>
<line x1="1364.3" y1="4353" x2="1364.3" y2="4391" stroke="#000" stroke-width="6.5"/>
<rect x="1350.9" y="4349.65" width="26.8" height="6.7"/>
<rect x="1350.9" y="4387.65" width="26.8" height="6.7"/>
<polyline points="354.2,3894.2 642.8,4357.5 714.95,4420.4 787.1,4443 931.4,4447 1075.7,4424.5 1364.3,4372" fill="none" stroke="#000" stroke-width="6.5" stroke-linejoin="round"/>
<circle cx="354.2" cy="3894.2" r="13.4"/>
<circle cx="642.8" cy="4357.5" r="13.4"/>
<circle cx="714.95" cy="4420.4" r="13.4"/>
<circle cx="787.1" cy="4443" r="13.4"/>
<circle cx="931.4" cy="4447" r="13.4"/>
<circle cx="1075.7" cy="4424.5" r="13.4"/>
<circle cx="1364.3" cy="4372" r="13.4"/>
<line x1="354.2" y1="3892.4" x2="354.2" y2="3973.8" stroke="#000" stroke-width="6.5"/>
<rect x="340.8" y="3889.05" width="26.8" height="6.7"/>
<rect x="340.8" y="3970.45" width="26.8" height="6.7"/>
<line x1="642.8" y1="4319" x2="642.8" y2="4373.2" stroke="#000" stroke-width="6.5"/>
<rect x="629.4" y="4315.65" width="26.8" height="6.7"/>
<rect x="629.4" y="4369.85" width="26.8" height="6.7"/>
<line x1="714.95" y1="4388.6" x2="714.95" y2="4436.2" stroke="#000" stroke-width="6.5"/>
<rect x="701.55" y="4385.25" width="26.8" height="6.7"/>
<rect x="701.55" y="4432.85" width="26.8" height="6.7"/>
<line x1="787.1" y1="4420.7" x2="787.1" y2="4469.3" stroke="#000" stroke-width="6.5"/>
<rect x="773.7" y="4417.35" width="26.8" height="6.7"/>
<rect x="773.7" y="4465.95" width="26.8" height="6.7"/>
<line x1="931.4" y1="4416.1" x2="931.4" y2="4449.1" stroke="#000" stroke-width="6.5"/>
<rect x="918" y="4412.75" width="26.8" height="6.7"/>
<rect x="918" y="4445.75" width="26.8" height="6.7"/>
<line x1="1075.7" y1="4412.9" x2="1075.7" y2="4448.9" stroke="#000" stroke-width="6.5"/>
<rect x="1062.3" y="4409.55" width="26.8" height="6.7"/>
<rect x="1062.3" y="4445.55" width="26.8" height="6.7"/>
<line x1="1364.3" y1="4340.5" x2="1364.3" y2="4390.3" stroke="#000" stroke-width="6.5"/>
<rect x="1350.9" y="4337.15" width="26.8" height="6.7"/>
<rect x="1350.9" y="4386.95" width="26.8" height="6.7"/>
<polyline points="354.2,3924.2 642.8,4346.1 714.95,4412.4 787.1,4445 931.4,4432.6 1075.7,4430.9 1364.3,4365.4" fill="none" stroke="#000" stroke-width="6.5" stroke-linejoin="round"/>
<circle cx="354.2" cy="3924.2" r="13.1" fill="#fff" stroke="#000" stroke-width="5.8"/>
<circle cx="642.8" cy="4346.1" r="13.1" fill="#fff" stroke="#000" stroke-width="5.8"/>
<circle cx="714.95" cy="4412.4" r="13.1" fill="#fff" stroke="#000" stroke-width="5.8"/>
<circle cx="787.1" cy="4445" r="13.1" fill="#fff" stroke="#000" stroke-width="5.8"/>
<circle cx="931.4" cy="4432.6" r="13.1" fill="#fff" stroke="#000" stroke-width="5.8"/>
<circle cx="1075.7" cy="4430.9" r="13.1" fill="#fff" stroke="#000" stroke-width="5.8"/>
<circle cx="1364.3" cy="4365.4" r="13.1" fill="#fff" stroke="#000" stroke-width="5.8"/>
<text x="1351.92" y="4030.2" font-size="67.5" font-style="italic">P</text>
<text x="1394.32" y="4045.7" font-size="45" letter-spacing="2.83">tim</text>
<text x="1467.09" y="4045.7" font-size="45">e</text>
<text transform="translate(1591.6,4026.2) scale(1.1022,1)" x="-2.31" y="0" font-size="55" font-weight="bold">&lt;</text>
<text transform="translate(1650.8,4030.2) scale(0.9714,1)" x="-2.58" y="0" font-size="66">0.001</text>
<text x="1351.92" y="4121.1" font-size="67.5" font-style="italic">P</text>
<text x="1394.72" y="4136.6" font-size="45" letter-spacing="2.85">treatment</text>
<text transform="translate(1629.8,4115.8) scale(1.2164,1)" x="-2.08" y="0" font-size="50" font-weight="bold">=</text>
<text transform="translate(1688.7,4121.1) scale(1.0224,1)" x="-2.58" y="0" font-size="66">0.97</text>
<text x="1351.92" y="4211.5" font-size="67.5" font-style="italic">P</text>
<text x="1392.49" y="4227" font-size="45" letter-spacing="3.26">interaction</text>
<text transform="translate(1633.2,4206.2) scale(1.2164,1)" x="-2.08" y="0" font-size="50" font-weight="bold">=</text>
<text transform="translate(1692.6,4211.5) scale(1.0289,1)" x="-2.58" y="0" font-size="66">0.69</text>
</svg>
</body></html>
